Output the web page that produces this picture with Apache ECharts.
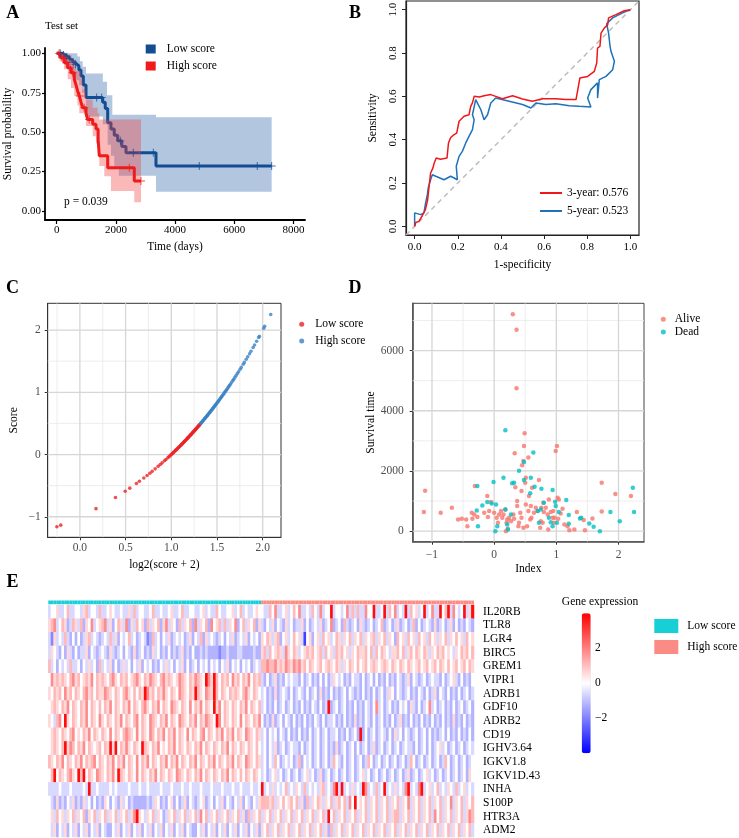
<!DOCTYPE html>
<html><head><meta charset="utf-8">
<script src="https://cdn.jsdelivr.net/npm/echarts@6/dist/echarts.min.js"></script>
<style>html,body{margin:0;padding:0;background:#fff}#c{width:739px;height:838px}</style>
</head><body><div id="c"></div>
<script>
// ---------- Panel A: Kaplan-Meier (Test set) ----------
const kmLowTime  = [0,200,290,380,450,520,600,680,750,820,900,990,1554,1640,1723,1834,1946,2060,2200,2341,3355,7264];
const kmLowSurv  = [1,0.989,0.978,0.966,0.955,0.943,0.931,0.919,0.894,0.856,0.80,0.72,0.69,0.65,0.56,0.52,0.48,0.445,0.41,0.37,0.285,0.285];
const kmHighTime = [0,100,145,257,372,483,595,652,709,764,821,878,990,1047,1216,1328,1400,1439,1723,2622,2848];
const kmHighSurv = [1,0.986,0.972,0.94,0.909,0.877,0.835,0.80,0.76,0.73,0.69,0.655,0.62,0.58,0.55,0.52,0.455,0.35,0.275,0.19,0.19];
const censorLowTime  = [120,230,340,420,560,640,1351,1520,2150,2588,3264,4818,6777,7264];
const censorHighTime = [80,180,230,320,450,540,780,930,1100,2453,2848];
const bandLowUpT  = [0,700,787,878,990,1560,1700,1880,3355,7264];
const bandLowUpV  = [1,0.98,0.95,0.915,0.873,0.82,0.735,0.61,0.594,0.594];
const bandLowLoT  = [0,150,300,460,600,760,860,990,1560,1723,1834,1946,2100,3355,7264];
const bandLowLoV  = [1,0.96,0.926,0.87,0.83,0.797,0.75,0.60,0.55,0.42,0.35,0.28,0.224,0.122,0.122];
const bandHighUpT = [0,300,500,652,821,878,990,1216,1380,1439,2848];
const bandHighUpV = [1,0.99,0.96,0.89,0.835,0.77,0.708,0.655,0.62,0.58,0.58];
const bandHighLoT = [0,100,250,372,483,595,700,764,990,1216,1328,1439,1608,1834,2622,2848];
const bandHighLoV = [1,0.95,0.90,0.835,0.78,0.73,0.67,0.62,0.54,0.475,0.43,0.285,0.22,0.127,0.055,0.055];
const kmTimeTicks = [0,2000,4000,6000,8000];
const kmSurvTicks = [0,0.25,0.5,0.75,1];

// ---------- Panel B: time-dependent ROC ----------
const roc3X = [0,0.005,0.02,0.036,0.05,0.06,0.067,0.074,0.085,0.09,0.1,0.12,0.15,0.157,0.167,0.183,0.195,0.206,0.229,0.252,0.26,0.268,0.276,0.3,0.322,0.353,0.376,0.407,0.454,0.5,0.546,0.593,0.655,0.7,0.748,0.755,0.766,0.802,0.833,0.844,0.848,0.859,0.864,0.879,0.895,0.899,0.933,0.972,1];
const roc3Y = [0,0.018,0.023,0.05,0.077,0.12,0.185,0.246,0.27,0.29,0.315,0.31,0.315,0.385,0.41,0.423,0.43,0.485,0.508,0.515,0.554,0.57,0.6,0.597,0.603,0.608,0.6,0.589,0.603,0.588,0.577,0.589,0.589,0.585,0.585,0.623,0.685,0.692,0.715,0.754,0.823,0.831,0.892,0.915,0.931,0.962,0.977,0.995,1];
const roc5X = [0,0,0.028,0.043,0.051,0.059,0.063,0.074,0.082,0.098,0.136,0.167,0.183,0.198,0.193,0.206,0.221,0.237,0.252,0.268,0.276,0.268,0.283,0.307,0.322,0.338,0.353,0.376,0.438,0.5,0.539,0.562,0.608,0.655,0.717,0.763,0.817,0.802,0.817,0.848,0.848,0.856,0.887,0.918,0.926,0.91,0.905,0.899,0.89,0.918,0.964,1];
const roc5Y = [0,0.062,0.054,0.062,0.108,0.146,0.177,0.215,0.238,0.231,0.215,0.231,0.223,0.215,0.277,0.323,0.346,0.385,0.415,0.446,0.492,0.515,0.585,0.538,0.492,0.515,0.569,0.592,0.577,0.562,0.546,0.569,0.562,0.566,0.557,0.554,0.551,0.592,0.631,0.662,0.592,0.677,0.692,0.723,0.762,0.808,0.838,0.892,0.935,0.962,0.985,1];
const rocTicks = [0,0.2,0.4,0.6,0.8,1];

// ---------- Panel C: score distribution ----------
const scoreLow = [-1.16,-1.135,-0.87,-0.69,-0.59,-0.54,-0.465,-0.43,-0.376,-0.336,-0.30,-0.27,-0.23,-0.19,-0.16,-0.134,-0.10,-0.08,-0.05,-0.03,-0.01,0.005,0.02,0.03,0.045,0.06,0.07,0.085,0.095,0.11,0.12,0.13,0.145,0.155,0.165,0.175,0.19,0.2,0.21,0.22,0.23,0.245,0.255,0.265,0.27,0.28,0.29,0.3,0.31,0.315,0.325,0.335,0.345,0.355,0.36,0.37,0.38,0.39,0.4,0.405,0.415,0.425,0.435,0.445,0.455,0.46,0.47,0.48,0.49];
const scoreHigh = [0.5,0.51,0.52,0.535,0.545,0.555,0.57,0.58,0.59,0.6,0.615,0.625,0.635,0.65,0.66,0.675,0.685,0.7,0.71,0.725,0.74,0.75,0.765,0.78,0.79,0.805,0.82,0.835,0.85,0.865,0.88,0.9,0.915,0.93,0.95,0.97,0.99,1.01,1.03,1.05,1.07,1.09,1.11,1.13,1.16,1.19,1.21,1.24,1.27,1.3,1.33,1.37,1.4,1.45,1.48,1.53,1.57,1.62,1.66,1.72,1.76,1.82,1.88,1.9,2.03,2.06,2.25];
const cXTicks = [0,0.5,1,1.5,2], cXMinor = [-0.25,0.25,0.75,1.25,1.75];
const cYTicks = [-1,0,1,2], cYMinor = [-0.5,0.5,1.5];

// ---------- Panel D: survival time vs index ----------
const aliveIndex = [-1.11,-1.13,-0.86,-0.68,-0.58,-0.52,-0.45,-0.43,-0.36,-0.35,-0.32,-0.31,-0.27,-0.16,-0.11,-0.10,-0.08,-0.05,0,0.04,0.06,0.08,0.11,0.13,0.15,0.18,0.19,0.2,0.21,0.22,0.24,0.27,0.31,0.32,0.33,0.34,0.30,0.36,0.36,0.37,0.37,0.39,0.40,0.42,0.44,0.44,0.45,0.47,0.47,0.48,0.49,0.50,0.51,0.51,0.53,0.55,0.55,0.56,0.58,0.59,0.60,0.61,0.64,0.67,0.70,0.72,0.74,0.75,0.76,0.78,0.79,0.80,0.83,0.86,0.87,0.88,0.91,0.94,0.95,0.96,0.97,0.99,1.01,1.02,1.03,1.04,1.07,1.10,1.13,1.18,1.21,1.29,1.33,1.44,1.46,1.58,1.73,1.73,1.95,2.20];
const aliveTime  = [1344,633,611,778,389,411,389,167,611,411,556,1500,467,611,1167,467,667,967,611,444,278,556,667,444,556,722,0,278,389,78,444,333,556,411,2589,1456,7210,6690,4744,1000,833,167,278,611,444,1333,2189,2333,111,2833,3256,1611,1778,889,167,2444,667,1167,389,833,444,1444,611,778,667,1700,111,333,778,278,944,633,778,556,56,1056,633,444,667,278,444,2667,2833,1111,411,1056,589,744,222,167,33,56,633,367,33,422,1611,656,1233,1167];
const deadIndex = [-0.27,-0.28,-0.26,-0.19,-0.11,-0.04,-0.01,0.03,0.02,0.05,0.15,0.18,0.18,0.21,0.22,0.27,0.29,0.32,0.40,0.48,0.48,0.58,0.59,0.63,0.65,0.70,0.72,0.75,0.76,0.80,0.88,0.91,0.94,0.94,0.98,0.99,1.01,1.04,1.16,1.20,1.20,1.38,1.40,1.53,1.60,1.70,1.87,2.02,2.23,2.25];
const deadTime  = [1500,689,167,856,967,922,1633,889,0,167,1778,3356,722,222,56,556,1589,1611,2011,2300,1700,1256,1778,2611,1478,667,278,722,1411,944,444,300,167,1367,978,833,278,633,1033,533,244,422,444,256,144,0,633,333,1444,633];
const dXTicks = [-1,0,1,2], dXMinor = [-0.5,0.5,1.5];
const dYTicks = [0,2000,4000,6000], dYMinor = [1000,3000,5000,7000];

// ---------- Panel E: heatmap ----------
const heatGenes = ['IL20RB','TLR8','LGR4','BIRC5','GREM1','VIPR1','ADRB1','GDF10','ADRB2','CD19','IGHV3.64','IGKV1.8','IGKV1D.43','INHA','S100P','HTR3A','ADM2'];
// one character per sample, level index into heatLevels (4 = 0)
const heatLowGroup = [
 '3445334633 4435634436 3345433433 5363443346 3343345334 6334433453 4336433445 3463433454',
 '5673465236 5362547345 6735246537 2536452635 4625735426 3546273546 2745636354 7246354625',
 '3153436324 2423563432 3436352434 6342343126 3424352343 4235243625 3432342435 2343524342',
 '3543242532 4233524323 4325323424 3252342325 3423242323 5232422323 2222122322 2332222322',
 '6342434363 3424353426 3435242353 4243524342 3243534243 5242342434 2434243524 3424342343',
 '4756565467 5645657465 6546754656 4567546576 5467565457 6546576548 7586465647 5646574656',
 '5465647564 6546756465 5765465467 5464658756 4657546547 6546586547 6586465465 6546754654',
 '4565465746 5465746546 4657465465 7465467546 5746547654 6547465746 5485746546 5465746546',
 '5436748546 5465746547 5465465746 5467465476 5465746547 6546574657 6548746546 5474654657',
 '4565465467 4546574654 6547465467 6547465476 4657465746 5474654674 6546574657 4654765465',
 '4565468576 4657465456 4658584657 5465486546 5745465746 5465465746 5465465746 5465465464',
 '6546574654 6574656746 5465746574 6547465746 5465746574 6546574654 6574654657 4654765465',
 '4684654675 4868465476 5465748654 6547465465 7465465476 5465465746 5465465746 5464654654',
 '3333433343 3334383343 3334343333 4333433433 3343334333 4334333433 3433343334 3343334334',
 '4325232435 2325342423 2542432534 2322222323 5423245242 3524323452 3424352432 4352432435',
 '4536453546 3546254635 4635463546 3578543546 3542354635 4635463746 3546354635 4635263546',
 '4352435243 5243524352 4322435243 5243524352 4352435243 5243224352 4352435243 5243524352'
];
const heatHighGroup = [
 '4336473345 3464733436 4373448344 3473636337 4483348364 7343836453 4834733846 8374348358',
 '3243524325 3423352423 4352347234 2632342532 3423462342 3523423624 2343252342 3524232432',
 '5465356245 3464530452 4536453465 3546354635 4563546354 2645364536 4536453546 3546453645',
 '5636456537 5465345656 4563645365 6453546556 4636465435 5646356465 4653546564 5435465646',
 '6676675657 6576756465 4564565465 3546546456 4565456546 5465465456 4564564654 6456456465',
 '3242352324 3433242342 3242423543 4232433242 3424232423 2432352432 3423433242 3453242324',
 '3423252343 2423432423 4252324232 3424323242 3242342354 2432342324 3242352432 4232423423',
 '3423242342 3423242324 3242382342 3423242324 3247342342 3243425324 2347342342 3242342342',
 '4232523424 3242324232 4324233423 2423252324 3242342324 2352324232 4232423242 3252324232',
 '3424342432 4232423242 3423423342 3242342824 2342343242 5342432342 3424232342 4232423242',
 '3424352342 3433242342 3423423252 3423424234 2352342342 3423433242 3424234534 2342342343',
 '3424364234 3423624342 3423423643 2423423423 6423423423 4234236423 4234234236 4234234234',
 '3423453423 4234234534 2352342342 3423423453 4234234234 2342352342 3453423423 4234234254',
 '8343534346 3435436343 4356343783 8343534387 3436348343 5343783437 8345346343 5436345343',
 '6665635464 5646352635 4653546356 4637484546 3546354635 4635473546 3546354635 4735463546',
 '3546354635 4635463546 3546384635 4635463546 3546354635 6635463546 3546374635 4635463576',
 '5463546354 6354635463 5463526354 6354635463 5463546354 6354635463 5463546354 6354635463'
];
const heatLevels = [-3.0,-1.9,-1.2,-0.6,0,0.6,1.1,1.8,3.8];
const colorbarTicks = [2,0,-2];

// ================= build =================
const F = 'Liberation Serif';
const BLUE = '#124D93', RED = '#F01A1A';

function pairs(xs, ys){ return xs.map((x,i)=>[x, ys[i]]); }
function survAt(times, surv, t){ let v = surv[0]; for (let i=0;i<times.length;i++){ if (times[i] <= t) v = surv[i]; } return v; }
function stepPts(ts, vs){ const o=[]; for(let i=0;i<ts.length;i++){ o.push([ts[i],vs[i]]); if(i+1<ts.length) o.push([ts[i+1],vs[i]]);} return o; }
function bandSeries(upT, upV, loT, loV, color, opacity, z){
  const poly = stepPts(upT, upV).concat(stepPts(loT, loV).reverse());
  return { type:'custom', name:'band', xAxisIndex:0, yAxisIndex:0, z:z, silent:true, data:[[upT[0], upV[0]]],
    renderItem:(params, api)=>({ type:'polygon', shape:{ points: poly.map(p=>api.coord(p)) }, style:{ fill:color, opacity:opacity } }) };
}
// background grid lines (ggplot style): one plain line series per grid line
function gridLineSeries(xi, yi, xr, yr, vMaj, vMin, hMaj, hMin){
  const out = [];
  const mk = (d, maj)=>({ type:'line', name:'grid', xAxisIndex:xi, yAxisIndex:yi, z:1, silent:true, showSymbol:false,
    color: maj ? '#D6D6D6' : '#E8E8E8',
    lineStyle:{ color: maj ? '#D6D6D6' : '#E8E8E8', width: maj ? 1.3 : 0.8, opacity:1 }, data:d });
  vMin.forEach(v=>out.push(mk([[v, yr[0]],[v, yr[1]]], false)));
  hMin.forEach(v=>out.push(mk([[xr[0], v],[xr[1], v]], false)));
  vMaj.forEach(v=>out.push(mk([[v, yr[0]],[v, yr[1]]], true)));
  hMaj.forEach(v=>out.push(mk([[xr[0], v],[xr[1], v]], true)));
  return out;
}
const minus = v => String(v).replace('-', '\u2212');
const plain = v => String(v);

// heatmap data
const lowRows = heatLowGroup.map(s=>s.replace(/ /g,''));
const highRows = heatHighGroup.map(s=>s.replace(/ /g,''));
const nLow = Math.max(...lowRows.map(s=>s.length));
const nHigh = Math.max(...highRows.map(s=>s.length));
const nCols = nLow + nHigh;
const heatData = [];
heatGenes.forEach((g, r)=>{
  lowRows[r].split('').forEach((ch,c)=>heatData.push([c, r, heatLevels[+ch]]));
  highRows[r].split('').forEach((ch,c)=>heatData.push([nLow + c, r, heatLevels[+ch]]));
});
const sampleIds = []; for (let i=0;i<nCols;i++) sampleIds.push('S'+(i+1));
const annLow = sampleIds.map((s,i)=> i < nLow ? 1 : '-');
const annHigh = sampleIds.map((s,i)=> i >= nLow ? 1 : '-');

const lblA = {fontFamily:F, fontSize:11, color:'#000'};
const lblG = {fontFamily:F, fontSize:11.5, color:'#4D4D4D'};
const nameS = {fontFamily:F, fontSize:11.5, color:'#000'};

const cXR = [-0.352, 2.2], cYR = [-1.33, 2.43];
const dXR = [-1.31, 2.41], dYR = [-350, 7570];

const seriesList = [
  bandSeries(bandLowUpT, bandLowUpV, bandLowLoT, bandLowLoV, '#3F72B0', 0.4, 1),
  {type:'line', name:'Low score', xAxisIndex:0, yAxisIndex:0, step:'end', z:2, showSymbol:false, color:BLUE,
   lineStyle:{color:BLUE, width:3}, data:pairs(kmLowTime, kmLowSurv)},
  bandSeries(bandHighUpT, bandHighUpV, bandHighLoT, bandHighLoV, '#F03A3A', 0.36, 3),
  {type:'line', name:'High score', xAxisIndex:0, yAxisIndex:0, step:'end', z:4, showSymbol:false, color:RED,
   lineStyle:{color:RED, width:3}, data:pairs(kmHighTime, kmHighSurv)},
  {type:'scatter', name:'censorLow', xAxisIndex:0, yAxisIndex:0, z:5, symbol:'path://M-5,-0.6L5,-0.6L5,0.6L-5,0.6Z M-0.6,-5L0.6,-5L0.6,5L-0.6,5Z', symbolSize:8,
   itemStyle:{color:BLUE}, data:censorLowTime.map(t=>[t, survAt(kmLowTime, kmLowSurv, t)])},
  {type:'scatter', name:'censorHigh', xAxisIndex:0, yAxisIndex:0, z:5, symbol:'path://M-5,-0.6L5,-0.6L5,0.6L-5,0.6Z M-0.6,-5L0.6,-5L0.6,5L-0.6,5Z', symbolSize:8,
   itemStyle:{color:RED}, data:censorHighTime.map(t=>[t, survAt(kmHighTime, kmHighSurv, t)])},
  {type:'line', name:'diag', xAxisIndex:1, yAxisIndex:1, showSymbol:false, z:1, lineStyle:{color:'#BDBDBD', width:1.5, type:[5,4]}, data:[[-0.04,-0.04],[1.04,1.04]]},
  {type:'line', name:'3-year: 0.576', xAxisIndex:1, yAxisIndex:1, showSymbol:false, z:3, color:'#F0171B', lineStyle:{color:'#F0171B', width:1.5}, data:pairs(roc3X, roc3Y)},
  {type:'line', name:'5-year: 0.523', xAxisIndex:1, yAxisIndex:1, showSymbol:false, z:2, color:'#1E72BA', lineStyle:{color:'#1E72BA', width:1.5}, data:pairs(roc5X, roc5Y)}
].concat(gridLineSeries(2, 2, cXR, cYR, cXTicks, cXMinor, cYTicks, cYMinor))
 .concat(gridLineSeries(3, 3, dXR, dYR, dXTicks, dXMinor, dYTicks, dYMinor))
 .concat([
  {type:'scatter', name:'Low score ', xAxisIndex:2, yAxisIndex:2, symbolSize:3.6, z:3, color:'#EC2226', itemStyle:{color:'#EC2226'},
   data:scoreLow.map(s=>[Math.log2(s+2), s])},
  {type:'scatter', name:'High score ', xAxisIndex:2, yAxisIndex:2, symbolSize:3.6, z:3, color:'#3A82C4', itemStyle:{color:'#3A82C4'},
   data:scoreHigh.map(s=>[Math.log2(s+2), s])},
  {type:'scatter', name:'Alive', xAxisIndex:3, yAxisIndex:3, symbolSize:4.5, z:3, color:'#F8766D', itemStyle:{color:'#F8766D'},
   data:pairs(aliveIndex, aliveTime)},
  {type:'scatter', name:'Dead', xAxisIndex:3, yAxisIndex:3, symbolSize:4.5, z:3, color:'#00BFC4', itemStyle:{color:'#00BFC4'},
   data:pairs(deadIndex, deadTime)},
  {type:'bar', name:'Low score  ', xAxisIndex:4, yAxisIndex:4, barWidth:'100%', barGap:'-100%', barCategoryGap:0, color:'#17CFD6', itemStyle:{color:'#17CFD6'}, data:annLow},
  {type:'bar', name:'High score  ', xAxisIndex:4, yAxisIndex:4, barWidth:'100%', barGap:'-100%', barCategoryGap:0, color:'#FA8C85', itemStyle:{color:'#FA8C85'}, data:annHigh},
  {type:'heatmap', name:'expr', xAxisIndex:5, yAxisIndex:5, data:heatData, progressive:0, itemStyle:{borderWidth:0}, emphasis:{disabled:true}}
 ]);
const heatSeriesIndex = seriesList.length - 1;

const option = {
  animation:false,
  backgroundColor:'#fff',
  grid:[
    {left:45, top:48, width:260, height:172, outerBoundsMode:'none'},
    {left:406, top:1, width:233, height:234, show:true, borderColor:'#222', borderWidth:1.2, outerBoundsMode:'none'},
    {left:47.7, top:303.3, width:233.3, height:234, show:true, backgroundColor:'transparent', borderColor:'#333', borderWidth:1, outerBoundsMode:'none'},
    {left:412.7, top:303.3, width:231.3, height:238.4, show:true, backgroundColor:'transparent', borderColor:'#444', borderWidth:1, outerBoundsMode:'none'},
    {left:48.3, top:600.5, width:425.7, height:3.7, outerBoundsMode:'none'},
    {left:48.3, top:605, width:425.7, height:232, outerBoundsMode:'none'}
  ],
  xAxis:[
    {type:'value', gridIndex:0, min:-395, max:8390, splitLine:{show:false},
     axisLine:{onZero:false, lineStyle:{color:'#000', width:1.8}}, axisTick:{customValues:kmTimeTicks, length:4, lineStyle:{color:'#000', width:1.2}},
     axisLabel:Object.assign({customValues:kmTimeTicks, margin:5, formatter:plain}, lblA),
     name:'Time (days)', nameLocation:'middle', nameGap:21, nameTextStyle:nameS},
    {type:'value', gridIndex:1, min:-0.04, max:1.04, splitLine:{show:false},
     axisLine:{onZero:false, lineStyle:{color:'#222', width:1.2}}, axisTick:{customValues:rocTicks, length:4, lineStyle:{color:'#222'}},
     axisLabel:Object.assign({customValues:rocTicks, margin:7, formatter:v=>v.toFixed(1)}, lblA),
     name:'1-specificity', nameLocation:'middle', nameGap:24, nameTextStyle:nameS},
    {type:'value', gridIndex:2, min:cXR[0], max:cXR[1], splitLine:{show:false},
     axisLine:{onZero:false, lineStyle:{color:'#333', width:1}}, axisTick:{customValues:cXTicks, length:3, lineStyle:{color:'#333'}},
     axisLabel:Object.assign({customValues:cXTicks, margin:5, formatter:v=>v.toFixed(1)}, lblG),
     name:'log2(score + 2)', nameLocation:'middle', nameGap:22, nameTextStyle:nameS},
    {type:'value', gridIndex:3, min:dXR[0], max:dXR[1], splitLine:{show:false},
     axisLine:{onZero:false, lineStyle:{color:'#555', width:1.6}}, axisTick:{customValues:dXTicks, length:3, lineStyle:{color:'#333'}},
     axisLabel:Object.assign({customValues:dXTicks, margin:7, formatter:v=>minus(v)}, lblG),
     name:'Index', nameLocation:'middle', nameGap:21, nameTextStyle:nameS},
    {type:'category', gridIndex:4, data:sampleIds, show:false},
    {type:'category', gridIndex:5, data:sampleIds, show:false}
  ],
  yAxis:[
    {type:'value', gridIndex:0, min:-0.057, max:1.034, splitLine:{show:false},
     axisLine:{onZero:false, lineStyle:{color:'#000', width:1.8}}, axisTick:{customValues:kmSurvTicks, length:3, lineStyle:{color:'#000', width:1.2}},
     axisLabel:Object.assign({customValues:kmSurvTicks, margin:4, formatter:v=>v.toFixed(2)}, lblA),
     name:'Survival probability', nameLocation:'middle', nameGap:31, nameTextStyle:nameS},
    {type:'value', gridIndex:1, min:-0.04, max:1.04, splitLine:{show:false},
     axisLine:{onZero:false, lineStyle:{color:'#222', width:1.2}}, axisTick:{customValues:rocTicks, length:4, lineStyle:{color:'#222'}},
     axisLabel:Object.assign({customValues:rocTicks, margin:7, rotate:90, formatter:v=>v.toFixed(1)}, lblA),
     name:'Sensitivity', nameLocation:'middle', nameGap:27, nameTextStyle:nameS},
    {type:'value', gridIndex:2, min:cYR[0], max:cYR[1], splitLine:{show:false},
     axisLine:{onZero:false, lineStyle:{color:'#333', width:1}}, axisTick:{customValues:cYTicks, length:3, lineStyle:{color:'#333'}},
     axisLabel:Object.assign({customValues:cYTicks, margin:7, formatter:v=>minus(v)}, lblG),
     name:'Score', nameLocation:'middle', nameGap:28, nameTextStyle:nameS},
    {type:'value', gridIndex:3, min:dYR[0], max:dYR[1], splitLine:{show:false},
     axisLine:{onZero:false, lineStyle:{color:'#555', width:1.6}}, axisTick:{customValues:dYTicks, length:3, lineStyle:{color:'#333'}},
     axisLabel:Object.assign({customValues:dYTicks, margin:9, formatter:plain}, lblG),
     name:'Survival time', nameLocation:'middle', nameGap:26, nameTextStyle:nameS},
    {type:'value', gridIndex:4, min:0, max:1, show:false},
    {type:'category', gridIndex:5, data:heatGenes, inverse:true, position:'right',
     axisLine:{show:false}, axisTick:{show:false}, splitLine:{show:false},
     axisLabel:{interval:0, fontFamily:F, fontSize:11.5, color:'#000', margin:9}}
  ],
  legend:[
    {data:['Low score','High score'], left:145.7, top:42, orient:'vertical', icon:'rect', itemWidth:10, itemHeight:9, itemGap:3, padding:0, selectedMode:false,
     textStyle:{fontFamily:F, fontSize:11.5, color:'#000', lineHeight:14, padding:[0,0,0,6]}},
    {data:['3-year: 0.576','5-year: 0.523'], left:540, top:186, orient:'vertical', icon:'rect', itemWidth:22, itemHeight:2, itemGap:4, padding:0, selectedMode:false,
     textStyle:{fontFamily:F, fontSize:11.5, color:'#000', lineHeight:14}},
    {data:['Low score ','High score '], formatter:n=>n.trim(), left:299.2, top:317.3, orient:'vertical', icon:'circle', itemWidth:5, itemHeight:5, itemGap:2.7, padding:0, selectedMode:false,
     textStyle:{fontFamily:F, fontSize:11.5, color:'#000', lineHeight:14, padding:[0,0,0,6]}},
    {data:['Alive','Dead'], left:660.8, top:313.3, orient:'vertical', icon:'circle', itemWidth:5, itemHeight:5, itemGap:0.7, padding:0, selectedMode:false,
     textStyle:{fontFamily:F, fontSize:11.5, color:'#000', lineHeight:12, padding:[0,0,0,4]}},
    {data:['Low score  ','High score  '], formatter:n=>n.trim(), left:654.3, top:619, orient:'vertical', icon:'rect', itemWidth:24, itemHeight:14, itemGap:7, padding:0, selectedMode:false,
     textStyle:{fontFamily:F, fontSize:11.5, color:'#000', lineHeight:14, padding:[0,0,0,4]}}
  ],
  visualMap:{type:'continuous', seriesIndex:heatSeriesIndex, dimension:2, min:-4, max:4, calculable:false, orient:'vertical',
    left:581.7, top:613.3, itemWidth:9, itemHeight:140, padding:0, inRange:{color:['#0000FF','#FFFFFF','#FF0000']}},
  series: seriesList,
  graphic:[
    {type:'text', x:12.7, y:13, style:{text:'A', font:'bold 18px "Liberation Serif"', fill:'#000', align:'center', verticalAlign:'middle', textAlign:'center', textVerticalAlign:'middle'}},
    {type:'text', x:355, y:13, style:{text:'B', font:'bold 18px "Liberation Serif"', fill:'#000', align:'center', verticalAlign:'middle', textAlign:'center', textVerticalAlign:'middle'}},
    {type:'text', x:12.5, y:288, style:{text:'C', font:'bold 18px "Liberation Serif"', fill:'#000', align:'center', verticalAlign:'middle', textAlign:'center', textVerticalAlign:'middle'}},
    {type:'text', x:355, y:288, style:{text:'D', font:'bold 18px "Liberation Serif"', fill:'#000', align:'center', verticalAlign:'middle', textAlign:'center', textVerticalAlign:'middle'}},
    {type:'text', x:12.5, y:582, style:{text:'E', font:'bold 18px "Liberation Serif"', fill:'#000', align:'center', verticalAlign:'middle', textAlign:'center', textVerticalAlign:'middle'}},
    {type:'text', x:45, y:26, style:{text:'Test set', font:'11px "Liberation Serif"', fill:'#000', align:'left', verticalAlign:'middle', textAlign:'left', textVerticalAlign:'middle'}},
    {type:'text', x:64, y:202, style:{text:'p = 0.039', font:'11.5px "Liberation Serif"', fill:'#000', align:'left', verticalAlign:'middle', textAlign:'left', textVerticalAlign:'middle'}},
    {type:'text', x:600, y:601.7, style:{text:'Gene expression', font:'11.5px "Liberation Serif"', fill:'#000', align:'center', verticalAlign:'middle', textAlign:'center', textVerticalAlign:'middle'}}
  ].concat(colorbarTicks.map(v=>({type:'text', x:595, y:683.3 - v*17.5,
     style:{text:minus(v), font:'11.5px "Liberation Serif"', fill:'#000', align:'left', verticalAlign:'middle', textAlign:'left', textVerticalAlign:'middle'}})))
};

const chart = echarts.init(document.getElementById('c'), null, {renderer:'canvas', width:739, height:838});
chart.setOption(option);
</script></body></html>
